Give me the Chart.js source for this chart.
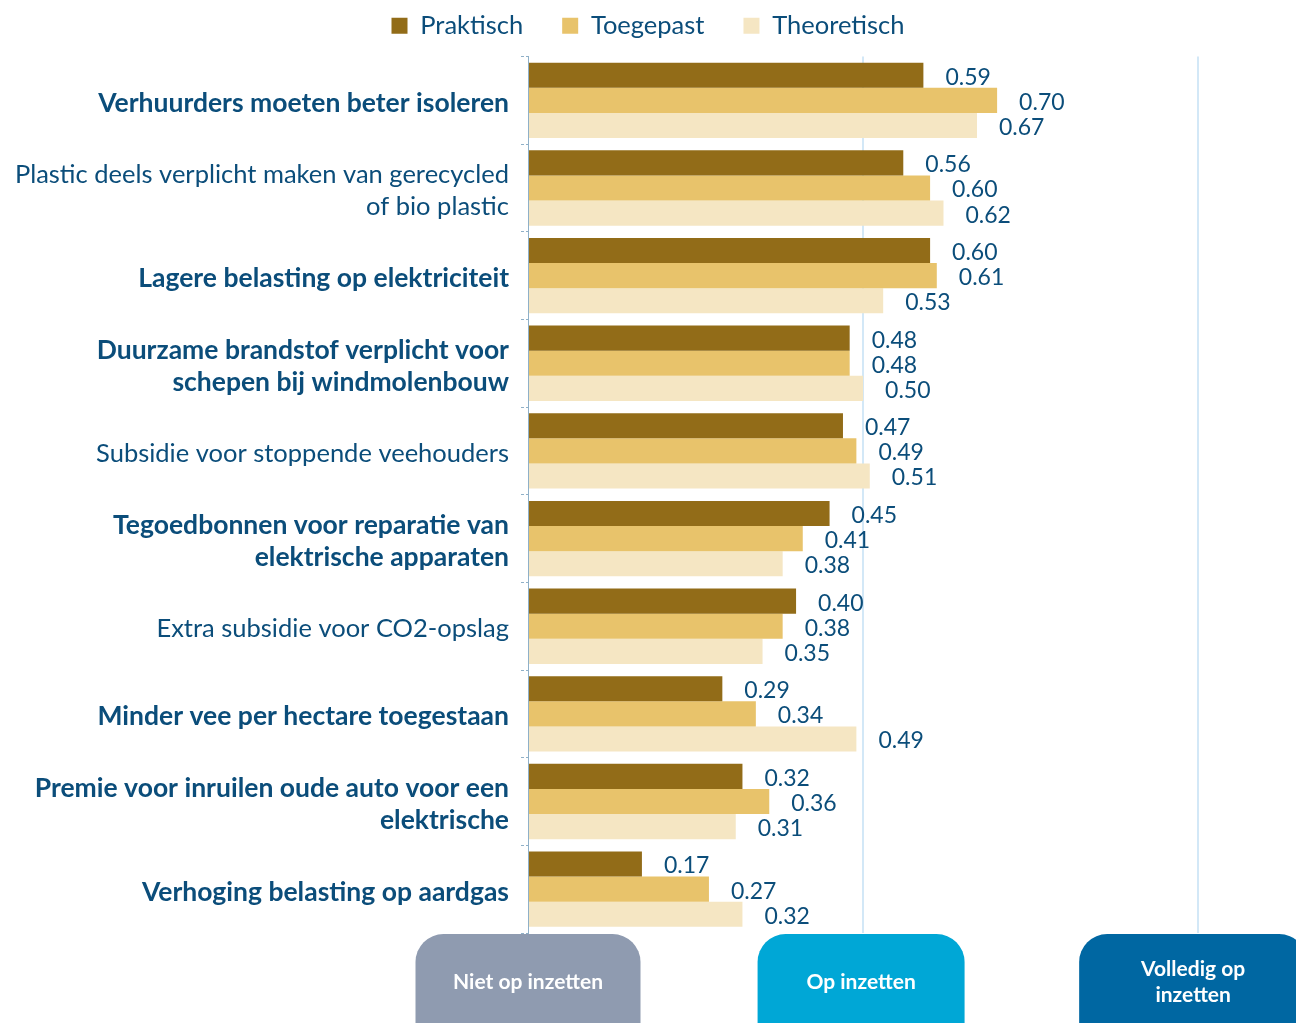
<!DOCTYPE html>
<html>
<head>
<meta charset="utf-8">
<script src="https://cdn.jsdelivr.net/npm/chart.js@4.4.1/dist/chart.umd.min.js"></script>
<style>
  html, body { margin: 0; padding: 0; background: #ffffff; overflow: hidden; }
  #wrap { width: 1296px; height: 1023px; position: relative; }
</style>
</head>
<body>
<div id="wrap"><canvas id="chart"></canvas></div>
<script>
// Categories (multi-line labels as arrays)
const categories = [
  'Verhuurders moeten beter isoleren',
  ['Plastic deels verplicht maken van gerecycled', 'of bio plastic'],
  'Lagere belasting op elektriciteit',
  ['Duurzame brandstof verplicht voor', 'schepen bij windmolenbouw'],
  'Subsidie voor stoppende veehouders',
  ['Tegoedbonnen voor reparatie van', 'elektrische apparaten'],
  'Extra subsidie voor CO2-opslag',
  'Minder vee per hectare toegestaan',
  ['Premie voor inruilen oude auto voor een', 'elektrische'],
  'Verhoging belasting op aardgas'
];
const boldLabels = [true, false, true, true, false, true, false, true, true, true];

const praktisch   = [0.59, 0.56, 0.60, 0.48, 0.47, 0.45, 0.40, 0.29, 0.32, 0.17];
const toegepast   = [0.70, 0.60, 0.61, 0.48, 0.49, 0.41, 0.38, 0.34, 0.36, 0.27];
const theoretisch = [0.67, 0.62, 0.53, 0.50, 0.51, 0.38, 0.35, 0.49, 0.31, 0.32];

// Bottom scale labels
const scaleValues = [0, 0.5, 1];
const scaleLabels = [['Niet op inzetten'], ['Op inzetten'], ['Volledig op', 'inzetten']];
const scaleColors = ['#8f9bb0', '#00a7d6', '#0067a2'];

const textBlue = '#0b4d7a';
const fontFamily = "Lato, 'Noto Sans', sans-serif";

// Value labels to the right of every bar
const valueLabels = {
  id: 'valueLabels',
  afterDatasetsDraw(chart) {
    const ctx = chart.ctx;
    ctx.save();
    ctx.font = '23px ' + fontFamily;
    ctx.fillStyle = textBlue;
    ctx.textAlign = 'left';
    ctx.textBaseline = 'middle';
    chart.data.datasets.forEach((ds, i) => {
      chart.getDatasetMeta(i).data.forEach((bar, j) => {
        ctx.fillText(ds.data[j].toFixed(2), bar.x + 22, bar.y + 2);
      });
    });
    ctx.restore();
  }
};

// Rounded boxes under the x axis
const scaleBoxes = {
  id: 'scaleBoxes',
  afterDraw(chart) {
    const ctx = chart.ctx;
    const x = chart.scales.x;
    const top = chart.chartArea.bottom + 1;
    const widths = [225, 207, 228];
    const shift = [0, -2, -5];
    ctx.save();
    scaleValues.forEach((v, i) => {
      const cx = x.getPixelForValue(v) + shift[i];
      const w = widths[i];
      ctx.fillStyle = scaleColors[i];
      ctx.beginPath();
      ctx.roundRect(cx - w / 2, top, w, 130, 28);
      ctx.fill();
      ctx.fillStyle = '#ffffff';
      ctx.font = 'bold 21px ' + fontFamily;
      ctx.textAlign = 'center';
      ctx.textBaseline = 'middle';
      const lines = scaleLabels[i];
      const lh = 26;
      const cy = top + 48 - (lines.length - 1) * lh / 2;
      lines.forEach((t, k) => ctx.fillText(t, cx, cy + k * lh));
    });
    ctx.restore();
  }
};

new Chart(document.getElementById('chart'), {
  type: 'bar',
  data: {
    labels: categories,
    datasets: [
      { label: 'Praktisch', data: praktisch, backgroundColor: '#926c18', xAxisID: 'x' },
      { label: 'Toegepast', data: toegepast, backgroundColor: '#e8c36b', xAxisID: 'x' },
      { label: 'Theoretisch', data: theoretisch, backgroundColor: '#f5e6c3', xAxisID: 'x' }
    ]
  },
  options: {
    indexAxis: 'y',
    responsive: true,
    maintainAspectRatio: false,
    animation: false,
    datasets: {
      bar: { categoryPercentage: 0.86, barPercentage: 1.0 }
    },
    layout: { padding: { top: -26, right: 0, bottom: 90, left: 0 } },
    scales: {
      x: {
        min: 0,
        max: 1.146,
        ticks: { display: false, stepSize: 0.5 },
        grid: {
          color: (c) => c.tick && (c.tick.value === 0.5 || c.tick.value === 1) ? '#d3e8f7' : 'rgba(0,0,0,0)',
          lineWidth: 2,
          drawTicks: false
        },
        border: { display: false }
      },
      xTop: {
        position: 'top',
        display: true,
        ticks: { display: false },
        grid: { display: false },
        border: { display: false },
        afterFit: (s) => { s.height = 8; }
      },
      y: {
        afterFit: (s) => { s.width = 528; },
        ticks: {
          color: textBlue,
          padding: 12,
          labelOffset: 3,
          font: (c) => ({
            family: fontFamily,
            size: boldLabels[c.index] ? 26.5 : 25.5,
            weight: boldLabels[c.index] ? 'bold' : 'normal',
            lineHeight: boldLabels[c.index] ? 1.21 : 1.255
          })
        },
        grid: {
          drawOnChartArea: false,
          tickLength: 7,
          color: '#8fb0c8',
          tickBorderDash: [3, 2]
        },
        border: { display: true, color: '#8fb0c8', dash: [4, 2], width: 1 }
      }
    },
    plugins: {
      legend: {
        position: 'top',
        labels: {
          color: textBlue,
          boxWidth: 16,
          boxHeight: 16,
          padding: 39,
          font: { family: fontFamily, size: 25.5 }
        }
      },
      tooltip: { enabled: false }
    }
  },
  plugins: [valueLabels, scaleBoxes]
});
</script>
</body>
</html>
